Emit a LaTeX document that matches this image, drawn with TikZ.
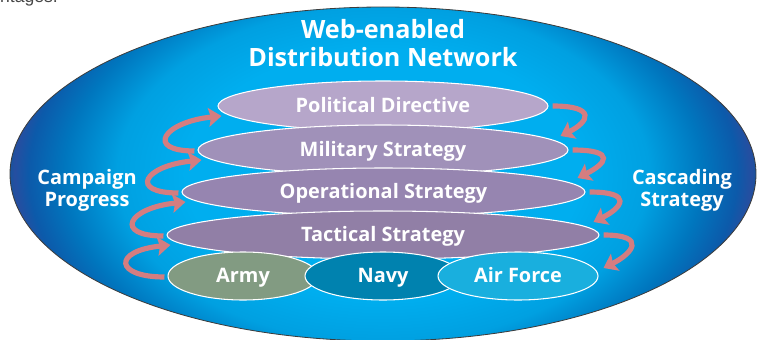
\documentclass[tikz,border=0pt]{standalone}
\usepackage{fontspec}
\setmainfont{Open Sans}
\newfontfamily\pagefont{Liberation Sans}
\usetikzlibrary{shapes.geometric}
\usetikzlibrary{arrows.meta}
\usetikzlibrary{calc}
\def\pxunit{0.03cm}
\definecolor{netcenter}{RGB}{0,174,239}
\definecolor{netmid}{RGB}{0,160,225}
\definecolor{netouter}{RGB}{0,118,190}
\definecolor{netdeep}{RGB}{12,90,170}
\definecolor{netband}{RGB}{38,78,160}
\definecolor{netrim}{RGB}{0,92,150}
\definecolor{rimgray}{RGB}{60,60,60}
\definecolor{polcol}{RGB}{182,166,202}
\definecolor{milcol}{RGB}{160,145,185}
\definecolor{opcol}{RGB}{150,133,176}
\definecolor{taccol}{RGB}{145,127,166}
\definecolor{armycol}{RGB}{130,155,130}
\definecolor{navycol}{RGB}{0,130,175}
\definecolor{aircol}{RGB}{25,175,222}
\definecolor{arrowcol}{RGB}{212,125,128}
\definecolor{pagegray}{RGB}{70,70,70}
\pgfdeclareradialshading{netshade}{\pgfpoint{0bp}{0bp}}{color(0bp)=(netcenter); color(13bp)=(netcenter); color(17.5bp)=(netmid); color(21bp)=(netouter); color(23.3bp)=(netdeep); color(24.25bp)=(netband); color(25bp)=(netrim); color(50bp)=(netrim)}

\begin{document}
\begin{tikzpicture}[x=\pxunit, y=-\pxunit, font=\fontsize{17}{19}\selectfont\bfseries, text=white]
	\tikzstyle{layer}=[ellipse, draw=white, line width=0.9pt, inner sep=0pt, minimum height=50*\pxunit, text height=13pt, text depth=2.4pt]
	\tikzstyle{political layer}=[layer, fill=polcol, minimum width=330*\pxunit]
	\tikzstyle{military layer}=[layer, fill=milcol, minimum width=370*\pxunit]
	\tikzstyle{operational layer}=[layer, fill=opcol, minimum width=403*\pxunit, minimum height=48*\pxunit]
	\tikzstyle{tactical layer}=[layer, fill=taccol, minimum width=432*\pxunit, minimum height=48*\pxunit]
	\tikzstyle{service}=[layer, minimum height=48*\pxunit]
	\tikzstyle{army unit}=[service, fill=armycol, minimum width=150*\pxunit]
	\tikzstyle{navy unit}=[service, fill=navycol, minimum width=156*\pxunit]
	\tikzstyle{airforce unit}=[service, fill=aircol, minimum width=160*\pxunit]
	\tikzstyle{annot}=[align=center]
	\tikzstyle{loop arrow}=[draw=arrowcol, line width=4.4pt, -{Stealth[width=16pt,length=11pt,inset=2pt]}]
	
	\useasboundingbox (0,0) rectangle (757,340);
	
	% Page text cut by the figure frame
	\node[anchor=base east, text=pagegray, font=\pagefont\fontsize{15}{18}\selectfont] (pagetext) at (62,3) {ntages.};
	
	% Draw the distribution network
	\begin{scope}
		\clip (383,174) ellipse [x radius=373, y radius=167];
		\shade[shading=netshade] (383,174) ellipse [x radius=380, y radius=240];
	\end{scope}
	\draw[rimgray, line width=0.7pt] (383,174) ellipse [x radius=373, y radius=167];
	
	% Draw the strategy layers
	\node[political layer] (pol) at (383,106) {Political Directive};
	\node[military layer] (mil) at (383,150) {Military Strategy};
	\node[operational layer] (op) at (383.5,192) {Operational Strategy};
	\node[tactical layer] (tac) at (383,235) {Tactical Strategy};
	
	% Draw the services
	\node[army unit] (army) at (243,276) {Army};
	\node[navy unit] (navy) at (383,276) {Navy};
	\node[airforce unit] (air) at (518,276) {Air Force};
	
	% Annotate the network
	\node[annot, font=\fontsize{21.5}{24}\selectfont\bfseries] (title) at (383,43) {Web-enabled\\Distribution Network};
	\node[annot] (progress) at (87,190) {Campaign\\Progress};
	\node[annot] (cascade) at (682,190) {Cascading\\Strategy};
	
	% Connect campaign progress (left side, upwards)
	\foreach \from/\to in {army/tac, tac/op, op/mil, mil/pol}
	\draw[loop arrow] ($(\from.west)+(-3,1)$) .. controls +(-50,0) and +(-58,6) .. ($(\to.west)+(4,10)$);
	
	% Connect cascading strategy (right side, downwards)
	\foreach \from/\to/\dx/\dy in {pol/mil/-8/-14, mil/op/-8/-14, op/tac/-6/-13, tac/air/5/-8}
	\draw[loop arrow] ($(\from.east)+(4,0)$) .. controls +(45,0) and +(28,-14) .. ($(\to.east)+(\dx,\dy)$);
	
\end{tikzpicture}
\end{document}
